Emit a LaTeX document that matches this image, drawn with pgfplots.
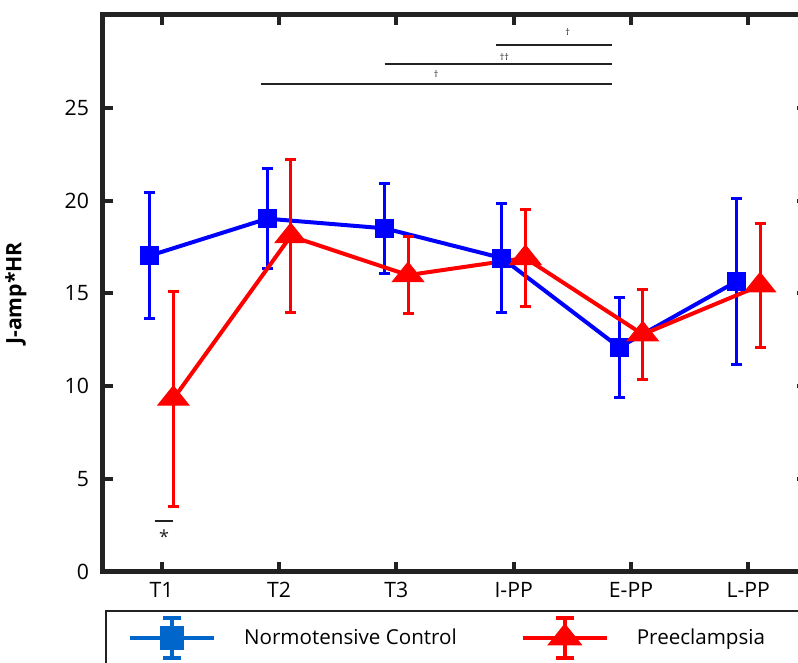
\documentclass[border=0pt]{standalone}
\usepackage{fontspec}
\setmainfont{Open Sans}
\usepackage{pgfplots}
\pgfplotsset{compat=1.18}

\definecolor{ncblue}{RGB}{0,0,255}
\definecolor{pered}{RGB}{255,0,0}
\definecolor{legblue}{RGB}{0,102,204}
\definecolor{axgray}{RGB}{34,34,34}

% legend icon: line + error bar + marker
\pgfplotsset{
  errleg/.style={legend image code/.code={
    \draw[#1, mark=none, line width=2pt] (0pt,0pt) -- (42pt,0pt);
    \draw[#1, mark=none, line width=2pt] (21pt,-10pt) -- (21pt,10pt);
    \draw[#1, mark=none, line width=2pt] (16.5pt,-10pt) -- (25.5pt,-10pt) (16.5pt,10pt) -- (25.5pt,10pt);
    \draw[#1, only marks] plot coordinates {(21pt,0pt)};
  }},
}

\begin{document}
\begin{tikzpicture}
\useasboundingbox (-51.5pt,-45.5pt) rectangle (347.5pt,286pt);
\clip (-51.5pt,-45.5pt) rectangle (347.5pt,286pt);
\begin{axis}[
  scale only axis,
  width=352pt, height=278.5pt,
  xmin=0.5, xmax=6.5, ymin=0, ymax=30,
  xtick={1,2,3,4,5,6},
  xticklabels={T1,T2,T3,I-PP,E-PP,L-PP},
  ytick={0,5,10,15,20,25},
  axis line style={line width=2.5pt, axgray},
  major tick length=5pt,
  tick style={line width=2pt, axgray},
  tick align=inside,
  /pgf/number format/assume math mode=true,
  tick label style={font=\fontsize{10.6}{12}\selectfont},
  yticklabel style={xshift=-3.5pt},
  xticklabel style={yshift=-1.5pt},
  ylabel={J-amp*HR},
  ylabel style={font=\fontsize{10.6}{12}\selectfont\bfseries,
    at={(axis description cs:-0.1236,0.5)}, anchor=center},
  clip=false,
  legend columns=-1,
  legend cell align=left,
  legend style={at={(0.003,-0.068)}, anchor=north west,
    draw=axgray, line width=1pt,
    font=\fontsize{10.3}{12}\selectfont,
    inner xsep=11pt, inner ysep=2.5pt,
    /tikz/every odd column/.append style={column sep=12pt},
    /tikz/every even column/.append style={column sep=30pt}},
]

% Normotensive Control
\addplot[forget plot, ncblue, line width=2pt, mark=square*, mark size=4.5pt,
  mark options={solid, fill=ncblue, line width=0.5pt},
  error bars/.cd, y dir=both, y explicit,
  error bar style={line width=1.5pt, ncblue},
  error mark options={rotate=90, mark size=2.75pt, line width=1.5pt, ncblue}]
coordinates {
  (0.9,17.04) +- (0,3.39)
  (1.9,19.03) +- (0,2.69)
  (2.9,18.51) +- (0,2.42)
  (3.9,16.91) +- (0,2.93)
  (4.9,12.10) +- (0,2.69)
  (5.9,15.65) +- (0,4.46)
};

% Preeclampsia
\addplot[forget plot, pered, line width=2pt, mark=triangle*, mark size=9pt,
  mark options={solid, fill=pered, line width=0.5pt, yscale=0.72},
  error bars/.cd, y dir=both, y explicit,
  error bar style={line width=1.5pt, pered},
  error mark options={rotate=90, mark size=2.75pt, line width=1.5pt, pered}]
coordinates {
  (1.1,9.33) +- (0,5.78)
  (2.1,18.09) +- (0,4.11)
  (3.1,15.99) +- (0,2.07)
  (4.1,16.91) +- (0,2.61)
  (5.1,12.80) +- (0,2.42)
  (6.1,15.43) +- (0,3.33)
};

\addlegendimage{errleg={legblue}, legblue, mark=square*, mark size=5.5pt, mark options={fill=legblue}}
\addlegendentry{Normotensive Control}
\addlegendimage{errleg={pered}, pered, mark=triangle*, mark size=9pt, mark options={fill=pered, yscale=0.72}}
\addlegendentry{Preeclampsia}
\addlegendimage{empty legend}
\addlegendentry{}

% significance annotations
\draw[line width=0.75pt, axgray] (axis cs:3.85,28.39) -- (axis cs:4.84,28.39);
\draw[line width=0.75pt, axgray] (axis cs:2.90,27.37) -- (axis cs:4.84,27.37);
\draw[line width=0.75pt, axgray] (axis cs:1.85,26.29) -- (axis cs:4.84,26.29);
\node[font=\fontsize{4.5}{5}\selectfont, axgray] at (axis cs:4.46,29.1) {†};
\node[font=\fontsize{4.5}{5}\selectfont, axgray] at (axis cs:3.92,27.75) {††};
\node[font=\fontsize{4.5}{5}\selectfont, axgray] at (axis cs:3.34,26.8) {†};
\draw[line width=0.75pt, axgray] (axis cs:0.94,2.74) -- (axis cs:1.10,2.74);
\node[font=\fontsize{9}{10}\selectfont, axgray] at (axis cs:1.02,1.9) {*};
\end{axis}
\end{tikzpicture}
\end{document}
